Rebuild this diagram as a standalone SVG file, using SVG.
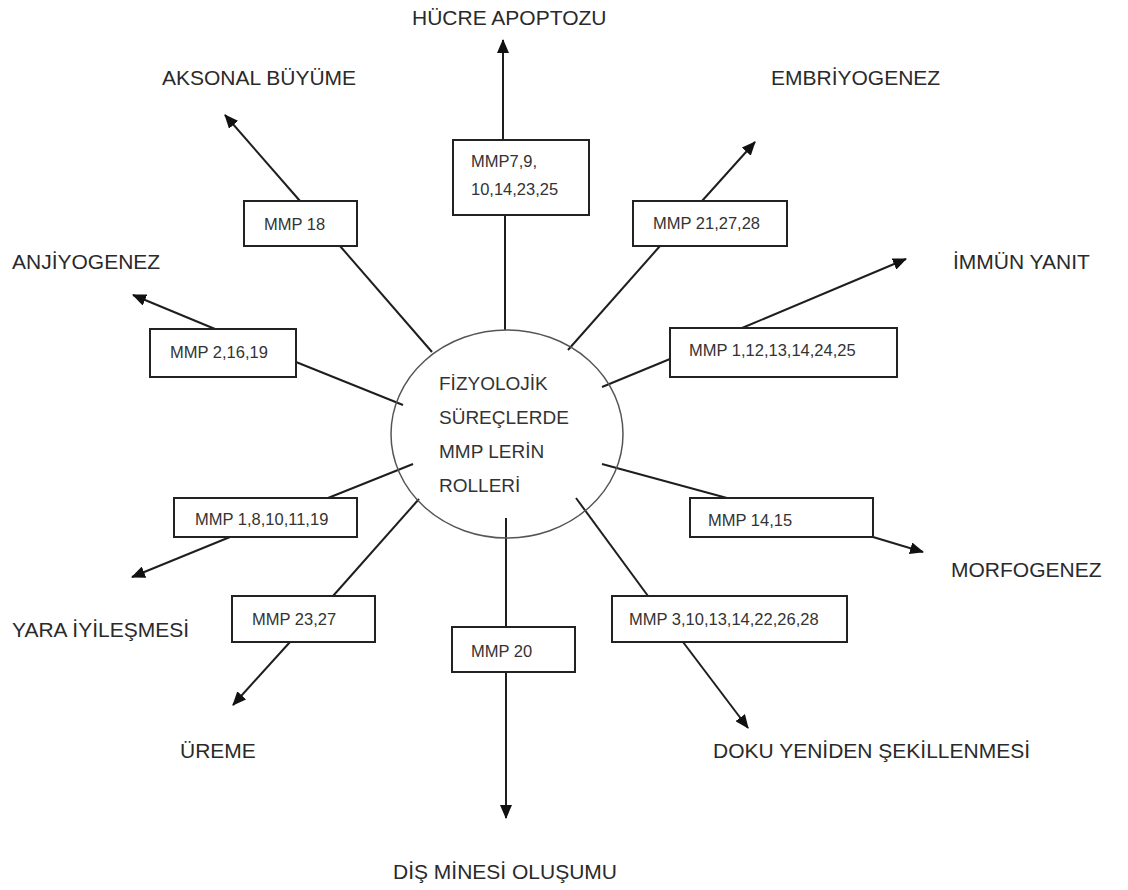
<svg xmlns="http://www.w3.org/2000/svg" width="1128" height="890" viewBox="0 0 1128 890">
<style>
.lbl{font-family:"Liberation Sans",Arial,sans-serif;font-size:21px;fill:#2a2a2a}
.box rect{fill:#fff;stroke:#222;stroke-width:2}
.box text{font-family:"Liberation Sans",Arial,sans-serif;font-size:16.5px;fill:#333}
.ctr text{font-family:"Liberation Sans",Arial,sans-serif;font-size:19px;fill:#333}
.ln{stroke:#1e1e1e;stroke-width:2;fill:none}
.ar{stroke:#1e1e1e;stroke-width:2;fill:none;marker-end:url(#ah)}
</style>
<defs>
<marker id="ah" markerUnits="userSpaceOnUse" markerWidth="14" markerHeight="12" refX="13" refY="6" orient="auto">
<path d="M0,0 L14,6 L0,12 z" fill="#111"/>
</marker>
</defs>
<rect width="1128" height="890" fill="#fff"/>
<g id="connectors">
<line class="ln" x1="505" y1="330" x2="505" y2="215"/>
<line class="ar" x1="503" y1="140" x2="503" y2="40"/>
<line class="ln" x1="432" y1="352" x2="340" y2="246"/>
<line class="ar" x1="300" y1="201" x2="225" y2="115"/>
<line class="ln" x1="568" y1="350" x2="660" y2="246"/>
<line class="ar" x1="702" y1="201" x2="755" y2="142"/>
<line class="ln" x1="403" y1="405" x2="296" y2="362"/>
<line class="ar" x1="215" y1="329" x2="133" y2="295"/>
<line class="ln" x1="602" y1="387" x2="670" y2="359"/>
<line class="ar" x1="742" y1="328" x2="906" y2="259"/>
<line class="ln" x1="602" y1="464" x2="727" y2="498"/>
<line class="ar" x1="873" y1="537" x2="923" y2="552"/>
<line class="ln" x1="413" y1="464" x2="328" y2="498"/>
<line class="ar" x1="230" y1="537" x2="132" y2="577"/>
<line class="ln" x1="419" y1="499" x2="333" y2="596"/>
<line class="ar" x1="290" y1="642" x2="233" y2="705"/>
<line class="ln" x1="576" y1="498" x2="648" y2="596"/>
<line class="ar" x1="683" y1="642" x2="748" y2="728"/>
<line class="ln" x1="506" y1="518" x2="506" y2="627"/>
<line class="ar" x1="506" y1="672" x2="506" y2="818"/>
</g>
<g id="center" class="ctr">
<ellipse cx="507" cy="434" rx="116" ry="104" fill="none" stroke="#555" stroke-width="1.5"/>
<text x="439" y="390">FİZYOLOJİK</text>
<text x="439" y="424">SÜREÇLERDE</text>
<text x="439" y="458">MMP LERİN</text>
<text x="439" y="492">ROLLERİ</text>
</g>
<g id="box-apoptoz" class="box"><rect x="453" y="140" width="136" height="75"/><text x="471" y="167">MMP7,9,</text><text x="471" y="195">10,14,23,25</text></g>
<g id="box-aksonal" class="box"><rect x="244" y="201" width="113" height="45"/><text x="264" y="230">MMP 18</text></g>
<g id="box-embriyo" class="box"><rect x="633" y="201" width="154" height="45"/><text x="653" y="229">MMP 21,27,28</text></g>
<g id="box-anjiyo" class="box"><rect x="150" y="329" width="146" height="48"/><text x="170" y="358">MMP 2,16,19</text></g>
<g id="box-immun" class="box"><rect x="670" y="328" width="227" height="49"/><text x="689" y="356">MMP 1,12,13,14,24,25</text></g>
<g id="box-yara" class="box"><rect x="174" y="498" width="183" height="39"/><text x="195" y="525">MMP 1,8,10,11,19</text></g>
<g id="box-morfo" class="box"><rect x="690" y="498" width="183" height="39"/><text x="708" y="526">MMP 14,15</text></g>
<g id="box-ureme" class="box"><rect x="232" y="596" width="143" height="46"/><text x="252" y="625">MMP 23,27</text></g>
<g id="box-doku" class="box"><rect x="612" y="596" width="235" height="46"/><text x="629" y="625">MMP 3,10,13,14,22,26,28</text></g>
<g id="box-dis" class="box"><rect x="452" y="627" width="123" height="45"/><text x="471" y="657">MMP 20</text></g>
<g id="label-apoptoz"><text class="lbl" x="412" y="25">HÜCRE APOPTOZU</text></g>
<g id="label-aksonal"><text class="lbl" x="162" y="85">AKSONAL BÜYÜME</text></g>
<g id="label-embriyo"><text class="lbl" x="771" y="85">EMBRİYOGENEZ</text></g>
<g id="label-anjiyo"><text class="lbl" x="12" y="269">ANJİYOGENEZ</text></g>
<g id="label-immun"><text class="lbl" x="953" y="269">İMMÜN YANIT</text></g>
<g id="label-morfo"><text class="lbl" x="951" y="577">MORFOGENEZ</text></g>
<g id="label-yara"><text class="lbl" x="12" y="637">YARA İYİLEŞMESİ</text></g>
<g id="label-ureme"><text class="lbl" x="180" y="758">ÜREME</text></g>
<g id="label-doku"><text class="lbl" x="713" y="758">DOKU YENİDEN ŞEKİLLENMESİ</text></g>
<g id="label-dis"><text class="lbl" x="393" y="879">DİŞ MİNESİ OLUŞUMU</text></g>
</svg>
